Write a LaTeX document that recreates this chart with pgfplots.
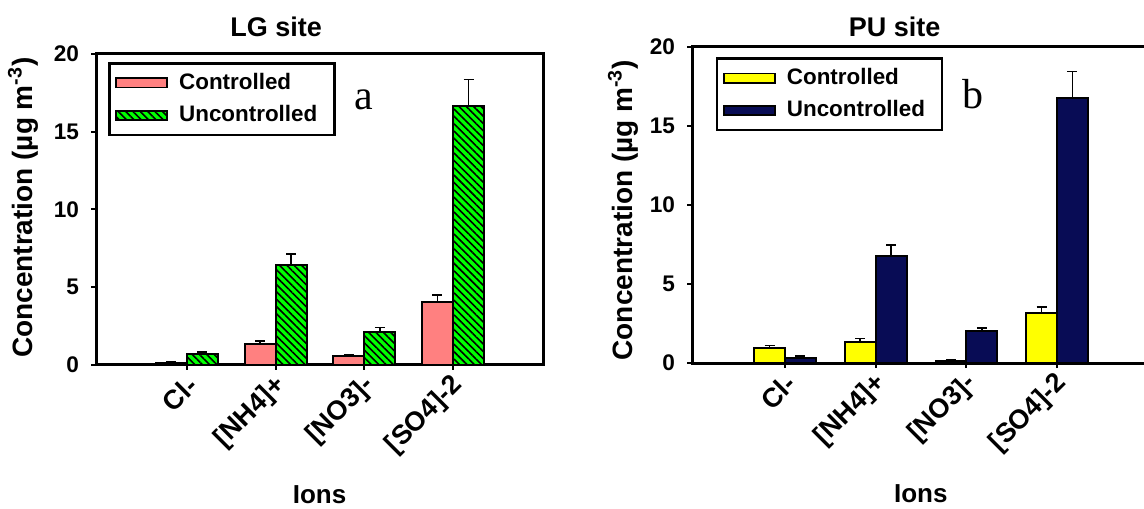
\documentclass[border=0pt]{standalone}
\usepackage{fontspec}
\setmainfont{Liberation Sans}
\newfontfamily\seriffont{Liberation Serif}
\usepackage{pgfplots}
\pgfplotsset{compat=1.18}
\usetikzlibrary{patterns.meta}
\definecolor{pinkbar}{RGB}{255,128,128}
\definecolor{greenbar}{RGB}{0,255,0}
\definecolor{yellowbar}{RGB}{255,255,0}
\definecolor{navybar}{RGB}{8,12,85}

\pgfplotsset{
 common/.style={
  scale only axis, anchor=south west, ymin=0, ymax=20, ytick={0,5,...,20},
  xtick={0,1,2,3}, xticklabels={{Cl-},{[NH4]+},{[NO3]-},{[SO4]-2}},
  ybar, bar width=0.35,
  axis line style={line width=1.5pt},
  tick align=outside, xtick pos=bottom, ytick pos=left, major tick length=2.5pt,
  tick style={line width=1pt, black},
  /pgf/number format/assume math mode=true,
  yticklabel style={font=\bfseries\fontsize{11.3}{13}\selectfont, xshift=-2.5pt},
  xticklabel style={font=\bfseries\fontsize{13.5}{15}\selectfont, rotate=45, anchor=east, yshift=-6pt, xshift=1.5pt},
  ylabel={Concentration (µg m\textsuperscript{-3})},
  ylabel style={font=\bfseries\fontsize{14}{16}\selectfont, anchor=base},
  xlabel={Ions},
  xlabel style={font=\bfseries\fontsize{13}{15}\selectfont, at={(0.5,0)}, anchor=base},
  title style={font=\bfseries\fontsize{13.5}{15}\selectfont, anchor=base},
  legend style={draw=black, line width=1.3pt, font=\bfseries\fontsize{11.2}{13}\selectfont,
    anchor=north west, inner xsep=3pt, inner ysep=3pt, row sep=2.5pt,
    nodes={inner ysep=2pt, inner xsep=5.5pt}},
  legend cell align=left,
  legend image code/.code={\draw[#1, line width=0.9pt] (0pt,-2.3pt) rectangle (25.5pt,2.3pt);},
 },
 barstyle/.style={draw=black, line width=1pt,
  error bars/y dir=plus, error bars/y explicit,
  error bars/error bar style={line width=0.8pt, black},
  error bars/error mark options={rotate=90, black, line width=0.8pt, mark size=2.5pt}},
}

\begin{document}
\begin{tikzpicture}
\useasboundingbox (0,0) rectangle (572pt,254pt);
\clip (0,0) rectangle (572pt,254pt);
\begin{axis}[common, at={(48pt,71.5pt)}, width=223.5pt, height=155.5pt,
  xmin=-1.026, xmax=4.015, title={LG site},
  title style={at={(0.403,1)}, yshift=2.5pt},
  ylabel style={at={(-0.143,0.506)}},
  xlabel style={yshift=-69pt},
  legend style={at={(0.027,0.974)}}]
\addplot[barstyle, fill=pinkbar, bar shift=-0.175] coordinates {
  (0,0.15) +- (0,0.08) (1,1.35) +- (0,0.21) (2,0.58) +- (0,0.08) (3,4.07) +- (0,0.43)};
\addlegendentry{Controlled}
\addplot[barstyle, fill=greenbar, bar shift=0.175,
  postaction={pattern={Lines[angle=-45,distance=2.6pt,line width=0.8pt]}, pattern color=black}] coordinates {
  (0,0.71) +- (0,0.13) (1,6.43) +- (0,0.71) (2,2.14) +- (0,0.28) (3,16.65) +- (0,1.72)};
\addlegendentry{Uncontrolled}
\node[font=\seriffont\fontsize{21}{21}\selectfont, anchor=base] at (rel axis cs:0.6,0.823) {a};
\end{axis}
\begin{axis}[common, at={(346pt,72.5pt)}, width=228.75pt, height=158pt,
  xmin=-1.026, xmax=4.02, bar width=0.34, title={PU site},
  title style={at={(0.443,1)}, yshift=-1pt},
  ylabel style={at={(-0.131,0.484)}},
  xlabel style={yshift=-69.5pt},
  legend style={at={(0.052,0.968)}}]
\addplot[barstyle, fill=yellowbar, bar shift=-0.17] coordinates {
  (0,0.93) +- (0,0.17) (1,1.31) +- (0,0.25) (2,0.15) +- (0,0.08) (3,3.19) +- (0,0.37)};
\addlegendentry{Controlled}
\addplot[barstyle, fill=navybar, bar shift=0.17] coordinates {
  (0,0.30) +- (0,0.14) (1,6.77) +- (0,0.70) (2,2.03) +- (0,0.17) (3,16.75) +- (0,1.69)};
\addlegendentry{Uncontrolled}
\node[font=\seriffont\fontsize{21}{21}\selectfont, anchor=base] at (rel axis cs:0.614,0.804) {b};
\end{axis}
\end{tikzpicture}
\end{document}
